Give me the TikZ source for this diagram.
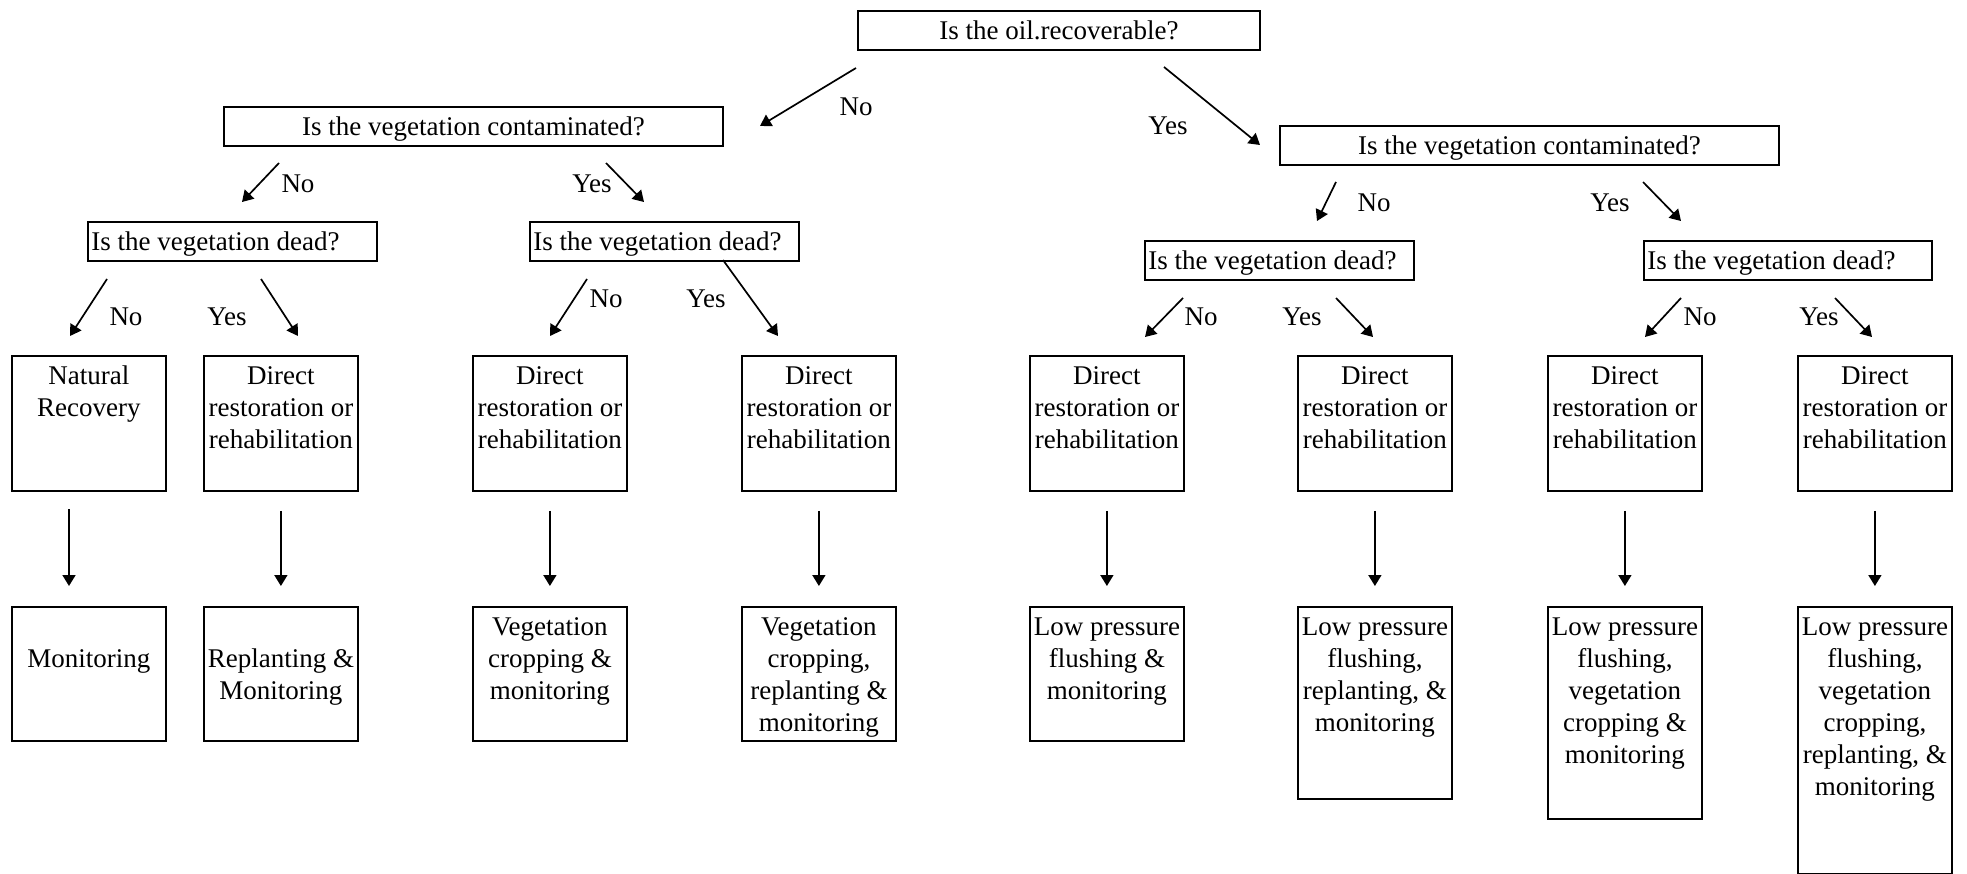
\documentclass[tikz,border=0pt]{standalone}
\usepackage{fontspec}
\setmainfont{Liberation Serif}
\usetikzlibrary{arrows.meta}
\newcommand\bxc[4]{\parbox[t][#2][t]{#1}{\centering\rule{0pt}{#3}#4}}
\newcommand\bxl[4]{\parbox[t][#2][t]{#1}{\raggedright\rule{0pt}{#3}\hspace*{3.5pt}#4}}
\begin{document}
\begin{tikzpicture}[x=1pt,y=-1pt,
  box/.style={draw, line width=1.8pt, inner sep=0pt, anchor=north west, font=\fontsize{27}{32}\selectfont},
  lab/.style={inner sep=0pt, font=\fontsize{27}{32}\selectfont},
  arr/.style={line width=1.7pt, -{Triangle[length=11pt,width=13pt]}}]
\useasboundingbox (0,0) rectangle (1967,874);
% decision boxes
\node[box] (q0) at (857,10) {\bxc{402pt}{39pt}{29pt}{Is the oil.recoverable?}};
\node[box] (c1) at (223,106) {\bxc{499pt}{39pt}{29pt}{Is the vegetation contaminated?}};
\node[box] (c2) at (1279,125) {\bxc{499pt}{39pt}{29pt}{Is the vegetation contaminated?}};
\node[box] (d1) at (87,221) {\bxl{289pt}{39pt}{29pt}{Is the vegetation dead?}};
\node[box] (d2) at (529,221) {\bxl{269pt}{39pt}{29pt}{Is the vegetation dead?}};
\node[box] (d3) at (1144,240) {\bxl{269pt}{39pt}{29pt}{Is the vegetation dead?}};
\node[box] (d4) at (1643,240) {\bxl{288pt}{39pt}{29pt}{Is the vegetation dead?}};
% first row of outcome boxes
\node[box] (r1) at (11,355) {\bxc{154pt}{135pt}{29pt}{Natural\\Recovery}};
\node[box] (r2) at (203,355) {\bxc{154pt}{135pt}{29pt}{Direct\\restoration or\\rehabilitation}};
\node[box] (r3) at (472,355) {\bxc{154pt}{135pt}{29pt}{Direct\\restoration or\\rehabilitation}};
\node[box] (r4) at (741,355) {\bxc{154pt}{135pt}{29pt}{Direct\\restoration or\\rehabilitation}};
\node[box] (r5) at (1029,355) {\bxc{154pt}{135pt}{29pt}{Direct\\restoration or\\rehabilitation}};
\node[box] (r6) at (1297,355) {\bxc{154pt}{135pt}{29pt}{Direct\\restoration or\\rehabilitation}};
\node[box] (r7) at (1547,355) {\bxc{154pt}{135pt}{29pt}{Direct\\restoration or\\rehabilitation}};
\node[box] (r8) at (1797,355) {\bxc{154pt}{135pt}{29pt}{Direct\\restoration or\\rehabilitation}};
% second row
\node[box] (s1) at (11,606) {\bxc{154pt}{134pt}{29pt}{\\Monitoring}};
\node[box] (s2) at (203,606) {\bxc{154pt}{134pt}{29pt}{\\Replanting \&\\Monitoring}};
\node[box] (s3) at (472,606) {\bxc{154pt}{134pt}{29pt}{Vegetation\\cropping \&\\monitoring}};
\node[box] (s4) at (741,606) {\bxc{154pt}{134pt}{29pt}{Vegetation\\cropping,\\replanting \&\\monitoring}};
\node[box] (s5) at (1029,606) {\bxc{154pt}{134pt}{29pt}{Low pressure\\flushing \&\\monitoring}};
\node[box] (s6) at (1297,606) {\bxc{154pt}{192pt}{29pt}{Low pressure\\flushing,\\replanting, \&\\monitoring}};
\node[box] (s7) at (1547,606) {\bxc{154pt}{212pt}{29pt}{Low pressure\\flushing,\\vegetation\\cropping \&\\monitoring}};
\node[box] (s8) at (1797,606) {\bxc{154pt}{267pt}{29pt}{Low pressure\\flushing,\\vegetation\\cropping,\\replanting, \&\\monitoring}};
% arrow end points
\coordinate (a0s) at (856,68);  \coordinate (a0e) at (760,126);
\coordinate (b0s) at (1164,67); \coordinate (b0e) at (1260,145);
\coordinate (a1s) at (279,163); \coordinate (a1e) at (242,202);
\coordinate (b1s) at (606,163); \coordinate (b1e) at (644,202);
\coordinate (a2s) at (1336,182); \coordinate (a2e) at (1317,221);
\coordinate (b2s) at (1643,182); \coordinate (b2e) at (1681,221);
\coordinate (a3s) at (107,279); \coordinate (a3e) at (70,336);
\coordinate (b3s) at (261,279); \coordinate (b3e) at (298,336);
\coordinate (a4s) at (587,279); \coordinate (a4e) at (550,336);
\coordinate (b4s) at (723,260); \coordinate (b4e) at (778,336);
\coordinate (a5s) at (1183,298); \coordinate (a5e) at (1145,337);
\coordinate (b5s) at (1336,298); \coordinate (b5e) at (1373,337);
\coordinate (a6s) at (1681,298); \coordinate (a6e) at (1645,337);
\coordinate (b6s) at (1835,298); \coordinate (b6e) at (1872,337);
\draw[arr] (a0s) -- (a0e);
\draw[arr] (b0s) -- (b0e);
\draw[arr] (a1s) -- (a1e);
\draw[arr] (b1s) -- (b1e);
\draw[arr] (a2s) -- (a2e);
\draw[arr] (b2s) -- (b2e);
\draw[arr] (a3s) -- (a3e);
\draw[arr] (b3s) -- (b3e);
\draw[arr] (a4s) -- (a4e);
\draw[arr] (b4s) -- (b4e);
\draw[arr] (a5s) -- (a5e);
\draw[arr] (b5s) -- (b5e);
\draw[arr] (a6s) -- (a6e);
\draw[arr] (b6s) -- (b6e);
% labels
\node[lab] (l0n) at (856,107) {No};
\node[lab] (l0y) at (1168,126) {Yes};
\node[lab] (l1n) at (298,184) {No};
\node[lab] (l1y) at (592,184) {Yes};
\node[lab] (l2n) at (1374,203) {No};
\node[lab] (l2y) at (1610,203) {Yes};
\node[lab] (l3n) at (126,317) {No};
\node[lab] (l3y) at (227,317) {Yes};
\node[lab] (l4n) at (606,299) {No};
\node[lab] (l4y) at (706,299) {Yes};
\node[lab] (l5n) at (1201,317) {No};
\node[lab] (l5y) at (1302,317) {Yes};
\node[lab] (l6n) at (1700,317) {No};
\node[lab] (l6y) at (1819,317) {Yes};
% vertical arrows
\coordinate (v1s) at (69,509);
\coordinate (v1e) at (69,586);
\draw[arr] (v1s) -- (v1e);
\foreach \i in {2,...,8}{
  \draw[arr] ([yshift=-19pt]r\i.south) -- ([yshift=20pt]s\i.north);
}
\end{tikzpicture}
\end{document}
